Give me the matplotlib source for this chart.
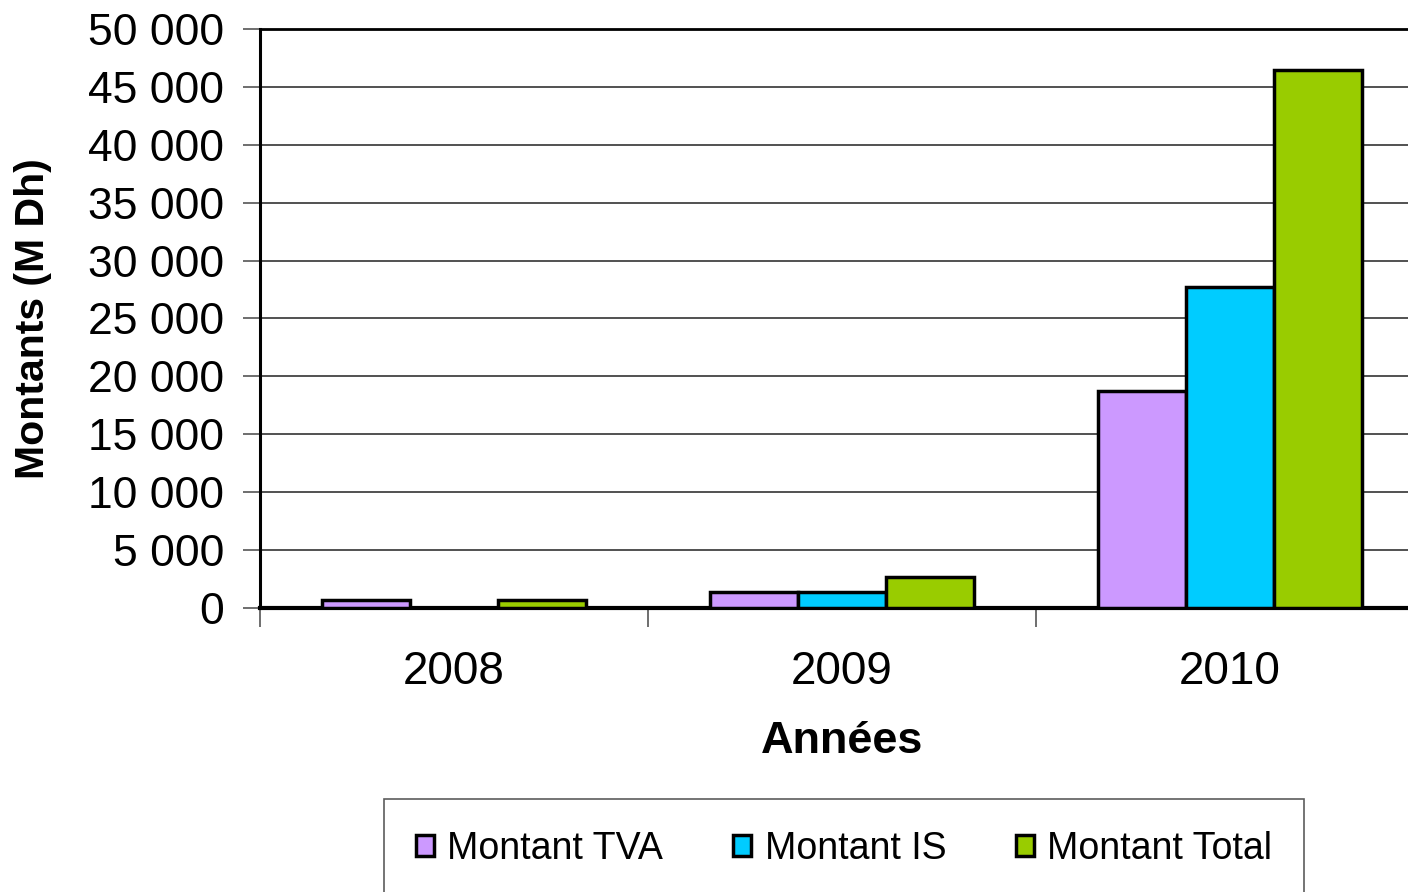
import numpy as np
import matplotlib.pyplot as plt
from matplotlib.ticker import FuncFormatter, FixedLocator

plt.rcParams['font.family'] = ['Liberation Sans', 'DejaVu Sans']

years = ["2008", "2009", "2010"]
series = ["Montant TVA", "Montant IS", "Montant Total"]
tva = [690, 1360, 18780]
is_ = [0, 1350, 27700]
total = [690, 2710, 46480]
colors = ["#cc99ff", "#00ccff", "#99cc00"]

fig = plt.figure(figsize=(14.08, 8.92), dpi=100)
ax = fig.add_axes([260 / 1408, (892 - 608) / 892, 1164 / 1408, 579 / 892])

x = np.arange(len(years))
w = 0.227
for i, (vals, name, c) in enumerate(zip([tva, is_, total], series, colors)):
    ax.bar(x + (i - 1) * w, vals, w, color=c, edgecolor="black", linewidth=2.5,
           label=name, zorder=3)

ax.set_xlim(-0.5, 2.5)
ax.set_ylim(0, 50000)
ax.set_yticks(np.arange(0, 50001, 5000))
ax.yaxis.set_major_formatter(FuncFormatter(lambda v, p: f"{int(v):,}".replace(",", " ")))
ax.yaxis.grid(True, color="#333333", linewidth=1.2, zorder=0)
ax.tick_params(axis="y", labelsize=32, length=12, width=1.2, color="#555555", pad=14)

ax.set_xticks(x)
ax.set_xticklabels(years)
ax.tick_params(axis="x", which="major", length=0, labelsize=33, pad=30)
ax.xaxis.set_minor_locator(FixedLocator([-0.5, 0.5, 1.5]))
ax.tick_params(axis="x", which="minor", length=14, width=1.2, color="#555555")

for s in ["top", "right"]:
    ax.spines[s].set_visible(False)
ax.spines["left"].set_linewidth(2.2)
ax.spines["bottom"].set_linewidth(3)
ax.axhline(50000, color="black", linewidth=2, zorder=4, clip_on=False)

ax.set_xlabel("Années", fontsize=32.5, fontweight="bold", labelpad=20)
ax.set_ylabel("Montants (M Dh)", fontsize=29.5, fontweight="bold")
ax.yaxis.set_label_coords(-208 / 1164, 0.5)

leg = fig.legend(loc="center", bbox_to_anchor=(844 / 1408, 1 - 849 / 892), ncol=3,
                 fontsize=27, frameon=True, fancybox=False, edgecolor="#333333",
                 handlelength=0.48, handleheight=0.48, handletextpad=0.37,
                 columnspacing=1.85, borderpad=0.85, borderaxespad=0)
leg.get_frame().set_linewidth(1.2)

fig.savefig("out.png", dpi=100)
